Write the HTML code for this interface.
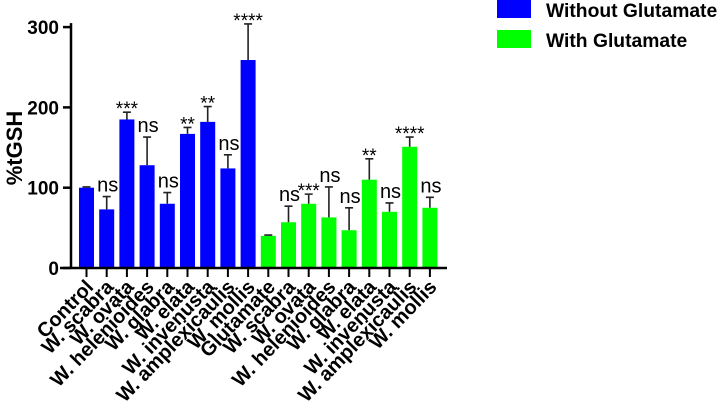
<!DOCTYPE html>
<html><head><meta charset="utf-8"><style>
html,body{margin:0;padding:0;background:#fff;}
svg{display:block;font-family:"Liberation Sans",Arial,sans-serif;}
</style></head><body>
<svg id="chart" width="726" height="404" viewBox="0 0 726 404" xmlns="http://www.w3.org/2000/svg">
<g>
<rect x="497" y="0" width="34" height="18" fill="#0000ff"/>
<text x="546" y="17" font-size="19.3" font-weight="bold">Without Glutamate</text>
<rect x="497" y="30" width="34" height="18" fill="#00ff00"/>
<text x="546" y="47" font-size="19.3" font-weight="bold">With Glutamate</text>
</g>
<text transform="translate(22,148) rotate(-90)" text-anchor="middle" font-size="22" font-weight="bold">%tGSH</text>
<g id="plot"></g>
</svg>
<script>
const categories=["Control","W. scabra","W. ovata","W. helenioides","W. glabra","W. elata","W. invenusta","W. amplexicaulis","W. mollis","Glutamate","W. scabra","W. ovata","W. helenioides","W. glabra","W. elata","W. invenusta","W. amplexicaulis","W. mollis"];
const values=[100,73,185,128,80,167,182,124,259,40,57,80,63,47,110,70,151,75];
const errors=[1,16,9,35,14,8,19,17,45,1,20,12,38,28,26,11,12,13];
const significance=["","ns","***","ns","ns","**","**","ns","****","","ns","***","ns","ns","**","ns","****","ns"];
const groups=[0,0,0,0,0,0,0,0,0,1,1,1,1,1,1,1,1,1];
const yTicks=[0,100,200,300];
const NS="http://www.w3.org/2000/svg";
const plot=document.getElementById('plot');
const y0=268,pxPer=0.803,x0=86.5,step=20.2,bw=15;
const y=v=>y0-v*pxPer;
const x=i=>x0+i*step;
const colors=["#0000ff","#00ff00"];
function mk(tag,attrs){const e=document.createElementNS(NS,tag);for(const k in attrs)e.setAttribute(k,attrs[k]);plot.appendChild(e);return e;}
values.forEach((v,i)=>{
 const b=mk('rect',{x:x(i)-bw/2,y:y(v),width:bw,height:y0-y(v),fill:colors[groups[i]]});
 
 
 const et=y(v+errors[i]);
 const l=mk('path',{d:`M${x(i)} ${y(v)}V${et}M${x(i)-4} ${et}H${x(i)+4}`,stroke:'#222',"stroke-width":1.6,fill:'none'});
 
 
 if(significance[i]){
  const ns=significance[i]==='ns';
  const t=mk('text',{x:x(i)+(ns?1:0),y:ns?et-5:et+3,"text-anchor":"middle","font-size":ns?20:19});
  t.textContent=significance[i];
  
  
 }
});
const ya=mk('path',{d:`M71 ${y(300)-4}V${y0}`,stroke:'#000',"stroke-width":2.5,fill:'none'});


const xa=mk('path',{d:`M60 ${y0}H447`,stroke:'#000',"stroke-width":2.5,fill:'none'});


yTicks.forEach(t=>{
 const tk=mk('path',{d:`M63 ${y(t)}H71`,stroke:'#000',"stroke-width":2.5});
 
 
 const lb=mk('text',{x:59,y:y(t)+7,"text-anchor":"end","font-size":19,"font-weight":"bold"});
 lb.textContent=t;
 
 
});
categories.forEach((c,i)=>{
 const tk=mk('path',{d:`M${x(i)} ${y0}V${y0+9}`,stroke:'#000',"stroke-width":2});
 
 
 const lb=mk('text',{transform:`translate(${x(i)+8},${y0+20}) rotate(-46)`,"text-anchor":"end","font-size":20,"font-weight":"bold"});
 lb.textContent=c;
 
 
});
</script>
</body></html>
